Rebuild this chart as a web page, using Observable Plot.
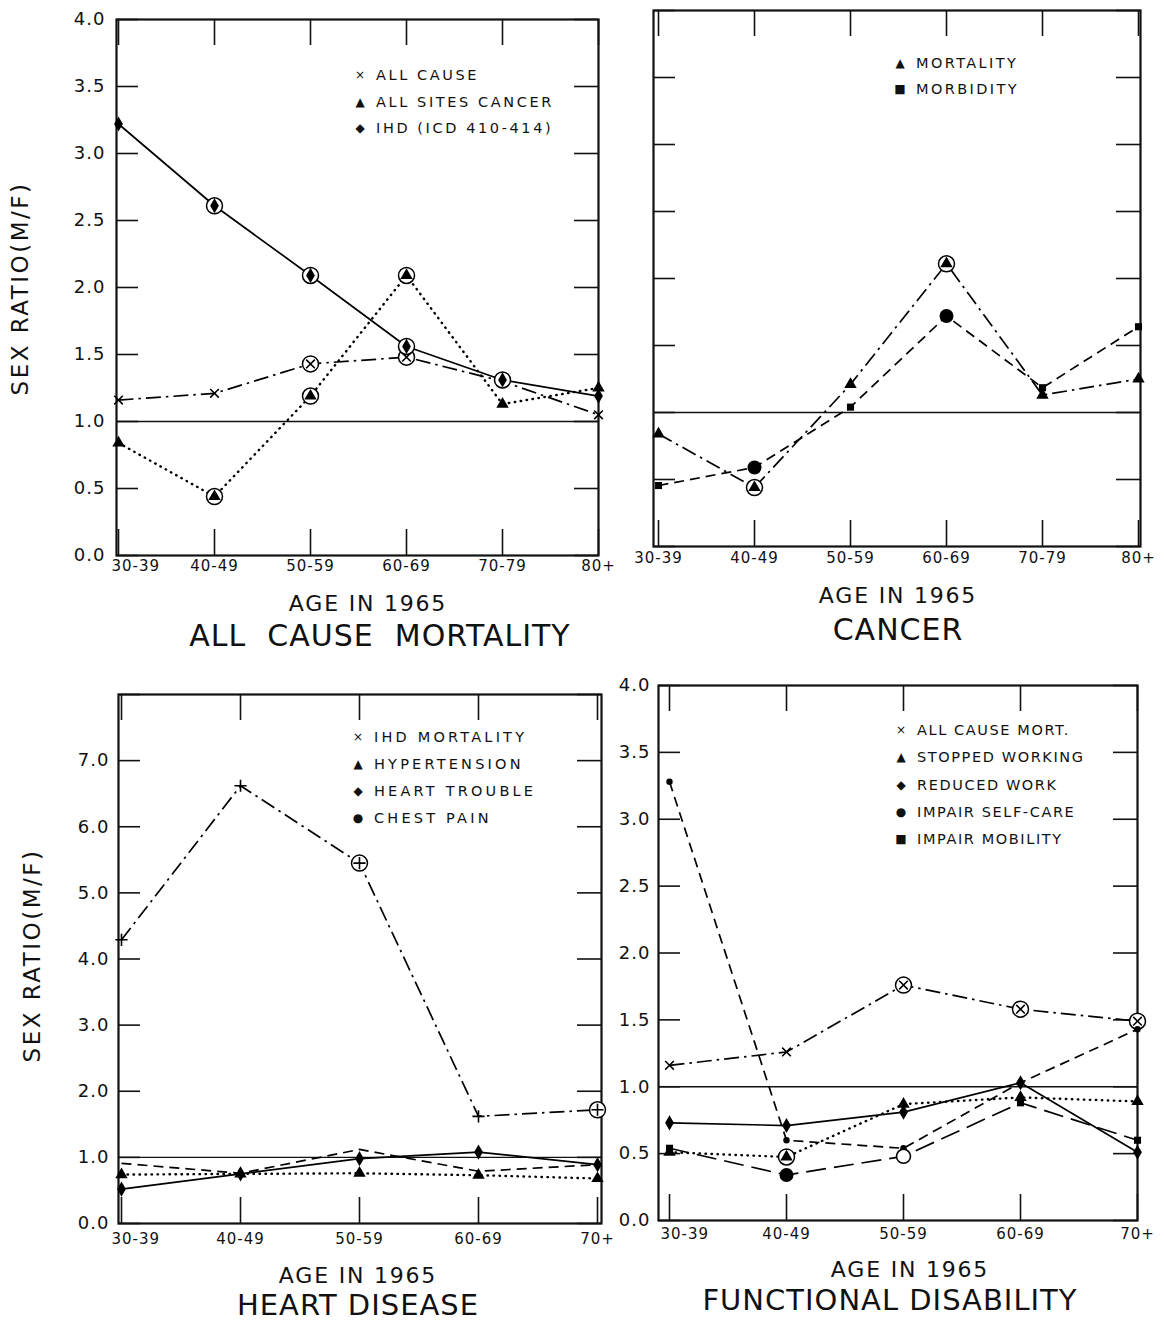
<!DOCTYPE html>
<html><head><meta charset="utf-8">
<script src="https://cdn.jsdelivr.net/npm/d3@7"></script>
<script src="https://cdn.jsdelivr.net/npm/@observablehq/plot@0.6"></script>
<style>
body{margin:0;background:#fff;}
#fig{position:relative;width:1164px;height:1322px;font-family:"DejaVu Sans",sans-serif;color:#111;overflow:hidden;}
#fig svg{position:absolute;background:transparent;}
#fig svg text{letter-spacing:1px;}
.lbl{position:absolute;white-space:pre;text-align:center;}
.leg{position:absolute;font-size:14.5px;white-space:nowrap;line-height:16px;}
.sym{position:absolute;font-size:12px;line-height:16px;width:16px;text-align:center;}
</style></head><body><div id="fig"></div><script>
// ---------- data ----------
const agesTop = ["30-39","40-49","50-59","60-69","70-79","80+"];
const agesBottom = ["30-39","40-49","50-59","60-69","70+"];
const ticksFour = [0,0.5,1,1.5,2,2.5,3,3.5,4];
const ticksEight = [0,1,2,3,4,5,6,7,8];
const labelsEight = [0,1,2,3,4,5,6,7];

// All cause mortality panel
const aAllCause = [1.16,1.21,1.43,1.48,1.30,1.05];
const aAllCauseRing = [0,0,1,1,0,0];
const aCancer = [0.84,0.44,1.19,2.09,1.13,1.25];
const aCancerRing = [0,1,1,1,0,0];
const aIHD = [3.22,2.61,2.09,1.56,1.31,1.19];
const aIHDRing = [0,1,1,1,1,0];
const aLegend = ["ALL CAUSE","ALL SITES CANCER","IHD (ICD 410-414)"];

// Cancer panel
const bMortality = [0.84,0.44,1.21,2.11,1.13,1.25];
const bMortalityRing = [0,1,0,1,0,0];
const bMorbidity = [0.455,0.59,1.04,1.72,1.185,1.64];
const bMorbiditySymbol = ["square","bigdot","square","bigdot","square","square"];
const bLegend = ["MORTALITY","MORBIDITY"];

// Heart disease panel
const cIHD = [4.29,6.62,5.45,1.62,1.72];
const cIHDRing = [0,0,1,0,1];
const cHypertension = [0.74,0.75,0.76,0.73,0.68];
const cHeartTrouble = [0.52,0.75,0.98,1.08,0.89];
const cChestPain = [0.91,0.76,1.12,0.79,0.89];
const cLegend = ["IHD MORTALITY","HYPERTENSION","HEART TROUBLE","CHEST PAIN"];

// Functional disability panel
const dAllCause = [1.16,1.26,1.76,1.58,1.49];
const dAllCauseRing = [0,0,1,1,1];
const dStopped = [0.51,0.475,0.87,0.92,0.89];
const dStoppedRing = [0,1,0,0,0];
const dReduced = [0.73,0.71,0.81,1.03,0.51];
const dSelfCare = [3.28,0.60,0.54,1.03,1.43];
const dMobility = [0.54,0.34,0.48,0.88,0.60];
const dMobilitySymbol = ["square","bigdot","ring","square","square"];
const dLegend = ["ALL CAUSE MORT.","STOPPED WORKING","REDUCED WORK","IMPAIR SELF-CARE","IMPAIR MOBILITY"];

// ---------- styles ----------
const DASHDOT = "15,5,2.5,5";
const DOTTED = "0.5,5.5";
const DASHED = "10,6";
const LONGDASH = "20,8";

const fig = document.getElementById("fig");

function rec(cats, vals, extra) {
  return cats.map((c, i) => ({age: c, v: vals[i], ring: extra && extra.ring ? extra.ring[i] : 0, sym: extra && extra.sym ? extra.sym[i] : null}));
}

function seriesMarks(s) {
  const dotted = s.dash === DOTTED;
  return [Plot.line(s.data, {x: "age", y: "v", stroke: "black", strokeWidth: dotted ? 2.4 : 1.7,
    strokeDasharray: s.dash || null, strokeLinecap: dotted ? "round" : "butt"})];
}
function markerMarks(s) {
  const m = [];
  const rings = s.data.filter(d => d.ring);
  if (rings.length) m.push(Plot.dot(rings, {x: "age", y: "v", r: 8, fill: "white", stroke: "black", strokeWidth: 1.5}));
  const groups = d3.group(s.data, d => d.sym || s.symbol);
  for (const [sym, pts] of groups) {
    if (sym === "none") continue;
    if (sym === "bigdot") m.push(Plot.dot(pts, {x: "age", y: "v", r: 7, fill: "black"}));
    else if (sym === "ring") m.push(Plot.dot(pts, {x: "age", y: "v", r: 7, fill: "white", stroke: "black", strokeWidth: 1.6}));
    else if (sym === "times" || sym === "plus") m.push(Plot.dot(pts, {x: "age", y: "v", symbol: sym, r: 4, fill: "none", stroke: "black", strokeWidth: 1.6}));
    else if (sym === "smalldot") m.push(Plot.dot(pts, {x: "age", y: "v", r: 3.2, fill: "black"}));
    else m.push(Plot.dot(pts, {x: "age", y: "v", symbol: sym, r: sym === "square" ? 4 : 4.6, fill: "black"}));
  }
  return m;
}

function panel(o) {
  const innerW = o.width - o.mL - o.mR, innerH = o.height - o.mT - o.mB;
  const first = o.firstStart ? o.cats.slice(0, 1) : [];
  const rest = o.firstStart ? o.cats.slice(1) : o.cats;
  const marks = [
    Plot.ruleY([1], {strokeWidth: 1.3}),
    Plot.tickX(o.cats, {x: d => d, insetTop: innerH - 26, strokeWidth: 1.6}),
    Plot.tickX(o.cats, {x: d => d, insetBottom: innerH - 26, strokeWidth: 1.6}),
    Plot.tickY(o.yTicks, {y: d => d, insetRight: innerW - 22, strokeWidth: 1.6}),
    Plot.tickY(o.yTicks, {y: d => d, insetLeft: innerW - 24, strokeWidth: 1.6}),
    Plot.text(rest, {x: d => d, frameAnchor: "bottom", dy: o.xdy, fontSize: 15, text: d => d, fill: "#111"}),
    Plot.text(first, {x: d => d, frameAnchor: "bottom", dy: o.xdy, dx: o.firstStart || 0, textAnchor: "start", fontSize: 15, text: d => d, fill: "#111"}),
    Plot.frame({strokeWidth: 2.2})
  ];
  if (o.yLabels) marks.push(Plot.text(o.yLabels, {y: d => d, frameAnchor: "left", dx: -o.ydx, textAnchor: "end", fontSize: 18, text: d => d.toFixed(1), fill: "#111"}));
  for (const s of o.series) marks.push(...seriesMarks(s));
  for (const s of o.series) marks.push(...markerMarks(s));
  const svg = Plot.plot({
    width: o.width, height: o.height,
    marginLeft: o.mL, marginRight: o.mR, marginTop: o.mT, marginBottom: o.mB,
    style: {background: "transparent", fontFamily: "DejaVu Sans, sans-serif", overflow: "visible"},
    x: {type: "point", domain: o.cats, padding: 0, insetLeft: o.insetL || 0, insetRight: o.insetR || 0, axis: null},
    y: {domain: o.yDomain, axis: null},
    marks
  });
  svg.style.left = o.left + "px";
  svg.style.top = o.top + "px";
  fig.appendChild(svg);
}

function label(text, cx, cy, fs, ls, rotate) {
  const d = document.createElement("div");
  d.className = "lbl"; d.textContent = text;
  d.style.fontSize = fs + "px"; d.style.lineHeight = fs + "px";
  d.style.letterSpacing = ls + "px";
  d.style.left = (cx - 300) + "px"; d.style.width = "600px"; d.style.top = (cy - fs / 2) + "px";
  if (rotate) d.style.transform = "rotate(-90deg)";
  fig.appendChild(d);
}
function legend(texts, syms, x, y0, step, ls) {
  texts.forEach((t, i) => {
    const s = document.createElement("div");
    s.className = "sym"; s.textContent = syms[i];
    s.style.left = (x - 8) + "px"; s.style.top = (y0 + i * step - 8) + "px";
    fig.appendChild(s);
    const d = document.createElement("div");
    d.className = "leg"; d.textContent = t;
    d.style.letterSpacing = ls + "px";
    d.style.left = (x + 16) + "px"; d.style.top = (y0 + i * step - 8) + "px";
    fig.appendChild(d);
  });
}

// ---------- panels ----------
panel({left: 0, top: 0, width: 612, height: 590, mL: 116, mR: 14, mT: 19, mB: 35, insetL: 1, firstStart: -7,
  cats: agesTop, yDomain: [0, 4], yTicks: ticksFour, yLabels: ticksFour, ydx: 11, xdy: 15,
  series: [
    {data: rec(agesTop, aAllCause, {ring: aAllCauseRing}), dash: DASHDOT, symbol: "times"},
    {data: rec(agesTop, aCancer, {ring: aCancerRing}), dash: DOTTED, symbol: "triangle"},
    {data: rec(agesTop, aIHD, {ring: aIHDRing}), dash: null, symbol: "diamond"}
  ]});

panel({left: 640, top: 0, width: 524, height: 590, mL: 13, mR: 24, mT: 10, mB: 44, insetL: 3,
  cats: agesTop, yDomain: [0, 4], yTicks: ticksFour, yLabels: null, xdy: 16,
  series: [
    {data: rec(agesTop, bMortality, {ring: bMortalityRing}), dash: DASHDOT, symbol: "triangle"},
    {data: rec(agesTop, bMorbidity, {sym: bMorbiditySymbol}), dash: DASHED, symbol: "square"}
  ]});

panel({left: 0, top: 660, width: 605, height: 600, mL: 118, mR: 4, mT: 34, mB: 37, insetL: 3, insetR: 4, firstStart: -10,
  cats: agesBottom, yDomain: [0, 8], yTicks: ticksEight, yLabels: labelsEight, ydx: 9, xdy: 20,
  series: [
    {data: rec(agesBottom, cIHD, {ring: cIHDRing}), dash: DASHDOT, symbol: "plus"},
    {data: rec(agesBottom, cHypertension), dash: DOTTED, symbol: "triangle"},
    {data: rec(agesBottom, cHeartTrouble), dash: null, symbol: "diamond"},
    {data: rec(agesBottom, cChestPain), dash: DASHED, symbol: "none"}
  ]});

panel({left: 605, top: 660, width: 559, height: 600, mL: 53, mR: 27, mT: 25, mB: 40, insetL: 11, firstStart: -9,
  cats: agesBottom, yDomain: [0, 4], yTicks: ticksFour, yLabels: ticksFour, ydx: 8, xdy: 18,
  series: [
    {data: rec(agesBottom, dAllCause, {ring: dAllCauseRing}), dash: DASHDOT, symbol: "times"},
    {data: rec(agesBottom, dStopped, {ring: dStoppedRing}), dash: DOTTED, symbol: "triangle"},
    {data: rec(agesBottom, dReduced), dash: null, symbol: "diamond"},
    {data: rec(agesBottom, dSelfCare), dash: DASHED, symbol: "smalldot"},
    {data: rec(agesBottom, dMobility, {sym: dMobilitySymbol}), dash: LONGDASH, symbol: "square"}
  ]});

// ---------- text ----------
label("SEX RATIO(M/F)", 20, 288, 23, 2.5, true);
label("SEX RATIO(M/F)", 32, 955, 23, 2.5, true);
label("AGE IN 1965", 368, 604, 22, 1.8);
label("ALL  CAUSE  MORTALITY", 380, 636, 30, 1);
label("AGE IN 1965", 898, 596, 22, 1.8);
label("CANCER", 898, 630, 30, 1);
label("AGE IN 1965", 358, 1276, 22, 1.8);
label("HEART DISEASE", 358, 1305, 29, 1);
label("AGE IN 1965", 910, 1270, 22, 1.8);
label("FUNCTIONAL DISABILITY", 890, 1300, 29, 1);

legend(aLegend, ["×","▲","◆"], 360, 75, 26.5, 2.6);
legend(bLegend, ["▲","■"], 900, 63, 26, 2.4);
legend(cLegend, ["×","▲","◆","●"], 358, 737, 27, 3.2);
legend(dLegend, ["×","▲","◆","●","■"], 901, 730, 27.3, 1.6);
</script></body></html>
